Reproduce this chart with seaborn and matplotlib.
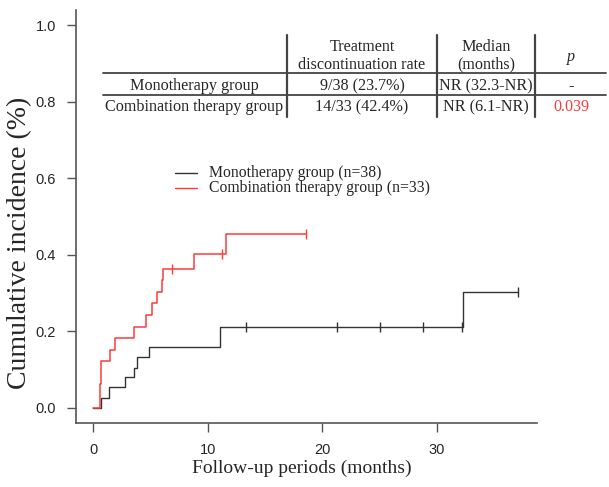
import matplotlib
matplotlib.use("Agg")
import matplotlib.pyplot as plt
from matplotlib.lines import Line2D
import seaborn as sns
import pandas as pd

# ---- data ----
mono_times = [0, 0.73, 1.40, 2.79, 3.55, 3.84, 4.84, 11.09, 32.3, 37.1]
mono_values = [0, 0.026, 0.053, 0.079, 0.105, 0.132, 0.158, 0.211, 0.302, 0.302]
mono_censor_times = [13.3, 21.3, 25.0, 28.8, 32.2, 37.1]
mono_censor_values = [0.211, 0.211, 0.211, 0.211, 0.211, 0.302]

comb_times = [0, 0.60, 0.72, 1.46, 1.95, 3.55, 4.63, 5.13, 5.59, 6.03, 6.11, 8.77, 11.56, 18.6]
comb_values = [0, 0.061, 0.121, 0.151, 0.182, 0.212, 0.242, 0.273, 0.303, 0.333, 0.364, 0.401, 0.454, 0.454]
comb_censor_times = [6.9, 11.2, 18.6]
comb_censor_values = [0.364, 0.401, 0.454]

legend_labels = ["Monotherapy group (n=38)", "Combination therapy group (n=33)"]
xticks = [0, 10, 20, 30]
yticks = [0.0, 0.2, 0.4, 0.6, 0.8, 1.0]

table_header = ["Treatment\ndiscontinuation rate", "Median\n(months)", "p"]
table_rows = ["Monotherapy group", "Combination therapy group"]
table_rate = ["9/38 (23.7%)", "14/33 (42.4%)"]
table_median = ["NR (32.3-NR)", "NR (6.1-NR)"]
table_p = ["-", "0.039"]

# ---- style ----
sns.set_style("ticks")
plt.rcParams["font.family"] = ["Liberation Serif", "DejaVu Serif"]

RED = "#ff3b3b"
BLACK = "#333333"
GRAY = "#555555"

W, H = 609, 487
fig = plt.figure(figsize=(W / 100, H / 100), dpi=100)

def fx(x):
    return x / W

def fy(y):
    return 1 - y / H

left, right, top, bottom = 76, 536.7, 10, 423
ax = fig.add_axes([fx(left), fy(bottom), fx(right) - fx(left), fy(top) - fy(bottom)])

mono_df = pd.DataFrame({"t": mono_times, "v": mono_values})
comb_df = pd.DataFrame({"t": comb_times, "v": comb_values})

sns.lineplot(data=mono_df, x="t", y="v", ax=ax, drawstyle="steps-post",
             color=BLACK, linewidth=1.0, estimator=None, sort=False)
sns.lineplot(data=comb_df, x="t", y="v", ax=ax, drawstyle="steps-post",
             color=RED, linewidth=1.1, estimator=None, sort=False)

sns.scatterplot(x=mono_censor_times, y=mono_censor_values, ax=ax, marker="|",
                s=60, color=BLACK, linewidth=1.0)
sns.scatterplot(x=comb_censor_times, y=comb_censor_values, ax=ax, marker="|",
                s=60, color=RED, linewidth=1.0)

ax.set_xlim(-1.49, 38.69)
ax.set_ylim(-0.04, 1.04)
ax.set_xticks(xticks)
ax.set_yticks(yticks)
ax.set_xticklabels([str(v) for v in xticks], family="Liberation Sans", fontsize=10.5)
ax.set_yticklabels([f"{v:.1f}" for v in yticks], family="Liberation Sans", fontsize=10.5)
ax.tick_params(direction="out", length=6.5, width=1.0, color=GRAY, pad=8)
for s in ["top", "right"]:
    ax.spines[s].set_visible(False)
for s in ["left", "bottom"]:
    ax.spines[s].set_color(GRAY)
    ax.spines[s].set_linewidth(1.2)

ax.set_xlabel("Follow-up periods (months)", fontsize=14, va="center")
ax.xaxis.set_label_coords(0.49, -0.109)
ax.set_ylabel("Cumulative incidence (%)", fontsize=20, va="center")
ax.yaxis.set_label_coords(-0.122, 0.436)

# ---- legend (drawn manually in figure pixels) ----
for i, (lab, col) in enumerate(zip(legend_labels, [BLACK, RED])):
    yy = 172.7 + 15 * i
    fig.add_artist(Line2D([fx(175), fx(197)], [fy(yy), fy(yy)], color=col,
                          linewidth=1.0, transform=fig.transFigure))
    fig.text(fx(209), fy(yy), lab, fontsize=11.3, va="center", ha="left")

# ---- table ----
line_kw = dict(color="#444444", transform=fig.transFigure)
for yy in [73.3, 95.0]:
    fig.add_artist(Line2D([fx(103), fx(606)], [fy(yy), fy(yy)], linewidth=1.3, **line_kw))
for xx in [286.7, 437.3, 534.5]:
    fig.add_artist(Line2D([fx(xx), fx(xx)], [fy(35), fy(116.7)], linewidth=1.6, **line_kw))

col_x = [194, 362, 486, 571]
fs = 11.6
fig.text(fx(col_x[1]), fy(56), table_header[0], ha="center", va="center",
         fontsize=fs, linespacing=1.1)
fig.text(fx(col_x[2]), fy(56), table_header[1], ha="center", va="center",
         fontsize=fs, linespacing=1.1)
fig.text(fx(col_x[3]), fy(57), table_header[2], ha="center", va="center",
         fontsize=fs, style="italic")
for i, yy in enumerate([86.2, 107.0]):
    fig.text(fx(col_x[0]), fy(yy), table_rows[i], ha="center", va="center", fontsize=fs)
    fig.text(fx(col_x[1]), fy(yy), table_rate[i], ha="center", va="center", fontsize=fs)
    fig.text(fx(col_x[2]), fy(yy), table_median[i], ha="center", va="center", fontsize=fs)
    fig.text(fx(col_x[3]), fy(yy), table_p[i], ha="center", va="center", fontsize=fs,
             color=(RED if i == 1 else "black"))

fig.savefig("out.png", dpi=100)
